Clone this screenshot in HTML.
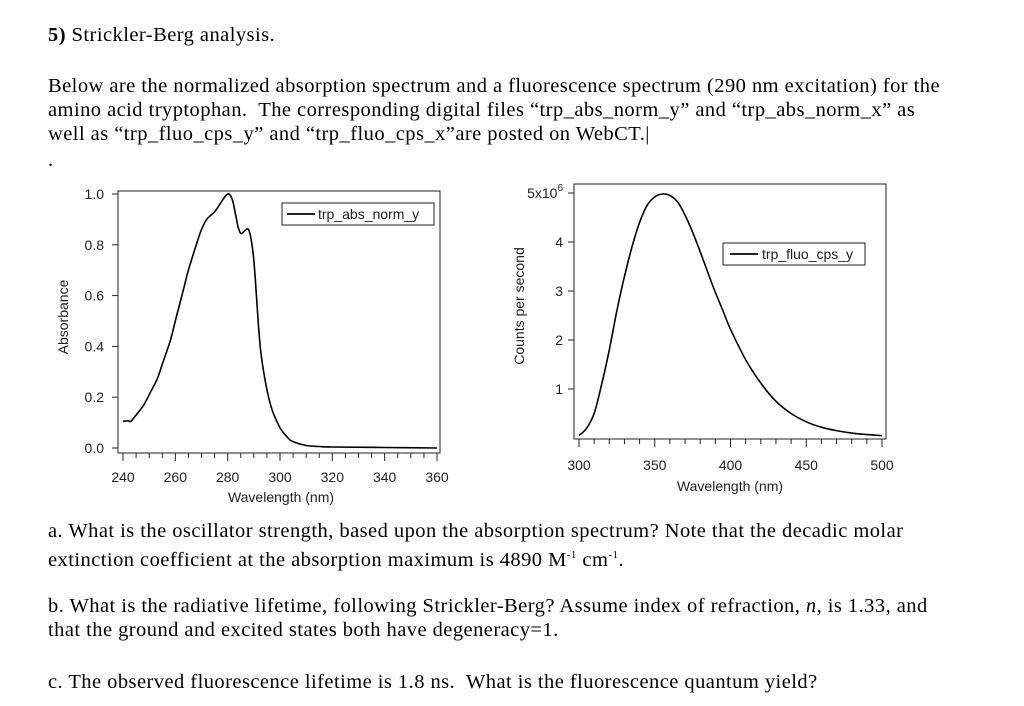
<!DOCTYPE html>
<html><head><meta charset="utf-8"><style>
body{margin:0;background:#fff;width:1024px;height:706px;overflow:hidden;position:relative;font-family:"Liberation Serif",serif;color:#000}
.t{position:absolute;left:48px;font-size:20.5px;letter-spacing:0.45px;white-space:nowrap;line-height:22px}
svg{position:absolute;left:0;top:0}
svg text{font-family:"Liberation Sans",sans-serif;font-size:14px;fill:#222}
</style></head><body>
<div class="t" style="top:24px"><b>5)</b> Strickler-Berg analysis.</div>
<div class="t" style="top:75px">Below are the normalized absorption spectrum and a fluorescence spectrum (290 nm excitation) for the</div>
<div class="t" style="top:99px">amino acid tryptophan.&nbsp; The corresponding digital files “trp_abs_norm_y” and “trp_abs_norm_x” as</div>
<div class="t" style="top:123px">well as “trp_fluo_cps_y” and “trp_fluo_cps_x”are posted on WebCT.|</div>
<div class="t" style="top:149px">.</div>
<div class="t" style="top:520px">a. What is the oscillator strength, based upon the absorption spectrum? Note that the decadic molar</div>
<div class="t" style="top:544px">extinction coefficient at the absorption maximum is 4890 M<sup style="font-size:11px">-1</sup> cm<sup style="font-size:11px">-1</sup>.</div>
<div class="t" style="top:595px">b. What is the radiative lifetime, following Strickler-Berg? Assume index of refraction, <i>n</i>, is 1.33, and</div>
<div class="t" style="top:619px">that the ground and excited states both have degeneracy=1.</div>
<div class="t" style="top:671px">c. The observed fluorescence lifetime is 1.8 ns.&nbsp; What is the fluorescence quantum yield?</div>
<svg id="svg" width="1024" height="706"></svg>
<script>
const absX=[240,242,243,245,248,250,253,255,258,260,263,265,268,270,272,275,277,279,280,281,282,283,284,285,286,287,288,289,290,291,292,293,295,297,300,303,305,310,315,320,340,360];
const absY=[0.105,0.107,0.105,0.13,0.17,0.21,0.27,0.33,0.42,0.5,0.62,0.7,0.8,0.86,0.9,0.93,0.96,0.99,1.0,0.995,0.97,0.92,0.87,0.845,0.85,0.86,0.86,0.82,0.74,0.6,0.45,0.35,0.23,0.15,0.08,0.04,0.025,0.01,0.006,0.004,0.002,0.0];
const fluX=[300,305,310,315,320,325,330,335,340,345,350,355,360,365,370,375,380,385,390,395,400,410,420,430,440,450,460,470,480,490,500];
const fluY=[0.05,0.2,0.5,1.1,1.8,2.6,3.3,3.9,4.4,4.75,4.92,4.98,4.95,4.82,4.55,4.2,3.8,3.38,2.97,2.6,2.22,1.6,1.12,0.75,0.5,0.33,0.22,0.15,0.1,0.07,0.05];
const absYTicks=["0.0","0.2","0.4","0.6","0.8","1.0"];
const absXTicks=[240,260,280,300,320,340,360];
const fluYTicks=[1,2,3,4,5];
const fluXTicks=[300,350,400,450,500];
const S=document.getElementById('svg');const NS='http://www.w3.org/2000/svg';
function mk(tag,a,name,txt){const e=document.createElementNS(NS,tag);for(const k in a)e.setAttribute(k,a[k]);


if(txt!==undefined)e.textContent=txt;S.appendChild(e);return e;}
function line(x1,y1,x2,y2,n){return mk('line',{x1,y1,x2,y2,stroke:'#222','stroke-width':1},n);}
function smooth(px){let d='M'+px[0][0].toFixed(1)+','+px[0][1].toFixed(1);
 for(let i=0;i<px.length-1;i++){const p0=px[Math.max(0,i-1)],p1=px[i],p2=px[i+1],p3=px[Math.min(px.length-1,i+2)];
 d+='C'+(p1[0]+(p2[0]-p0[0])/6).toFixed(1)+','+(p1[1]+(p2[1]-p0[1])/6).toFixed(1)+' '+(p2[0]-(p3[0]-p1[0])/6).toFixed(1)+','+(p2[1]-(p3[1]-p1[1])/6).toFixed(1)+' '+p2[0].toFixed(1)+','+p2[1].toFixed(1);}
 return d;}
// left chart
const ax=v=>123+(v-240)*(437-123)/120, ay=v=>448-v*254;
mk('rect',{x:118,y:191,width:322,height:262,fill:'none',stroke:'#222','stroke-width':1},'abs-plot-frame');
for(let v=240;v<=360;v+=5){line(ax(v),453,ax(v),v%20==0?461:458,'abs-x-tick');}
absXTicks.forEach(v=>mk('text',{x:ax(v),y:482,'text-anchor':'middle'},'abs-x-tick-label',String(v)));
absYTicks.forEach(s=>{const y=ay(parseFloat(s));line(112,y,118,y,'abs-y-tick');mk('text',{x:104,y:y+5,'text-anchor':'end'},'abs-y-tick-label',s);});
mk('text',{x:281,y:502,'text-anchor':'middle'},'abs-x-axis-title','Wavelength (nm)');
mk('text',{x:68,y:317,'text-anchor':'middle',transform:'rotate(-90 68 317)'},'abs-y-axis-title','Absorbance');
mk('path',{d:smooth(absX.map((x,i)=>[ax(x),ay(absY[i])])),fill:'none',stroke:'#000','stroke-width':1.6},'abs-series-line');
mk('rect',{x:282,y:203,width:152,height:22,fill:'#fff',stroke:'#222'},'abs-legend-box');
line(287,214,315,214,'abs-legend-line').setAttribute('stroke-width',2);
mk('text',{x:318,y:219},'abs-legend-label','trp_abs_norm_y');
// right chart
const fx=v=>579+(v-300)*(882-579)/200, fy=v=>438-v*49;
mk('rect',{x:574,y:184,width:312,height:255,fill:'none',stroke:'#222','stroke-width':1},'flu-plot-frame');
for(let v=300;v<=500;v+=10){line(fx(v),439,fx(v),v%50==0?447:444,'flu-x-tick');}
fluXTicks.forEach(v=>mk('text',{x:fx(v),y:470,'text-anchor':'middle'},'flu-x-tick-label',String(v)));
fluYTicks.forEach(v=>{const y=fy(v);line(568,y,574,y,'flu-y-tick');
 if(v==5){const t=mk('text',{x:563,y:y+5,'text-anchor':'end'},'flu-y-tick-label','5x10');const s=document.createElementNS(NS,'tspan');s.setAttribute('dy','-7');s.setAttribute('font-size','10');s.textContent='6';t.appendChild(s);}
 else mk('text',{x:563,y:y+5,'text-anchor':'end'},'flu-y-tick-label',String(v));});
mk('text',{x:730,y:491,'text-anchor':'middle'},'flu-x-axis-title','Wavelength (nm)');
mk('text',{x:524,y:306,'text-anchor':'middle',transform:'rotate(-90 524 306)'},'flu-y-axis-title','Counts per second');
mk('path',{d:smooth(fluX.map((x,i)=>[fx(x),fy(fluY[i])])),fill:'none',stroke:'#000','stroke-width':1.6,'stroke-linejoin':'round'},'flu-series-line');
mk('rect',{x:723,y:243,width:142,height:22,fill:'#fff',stroke:'#222'},'flu-legend-box');
line(730,254,758,254,'flu-legend-line').setAttribute('stroke-width',2);
mk('text',{x:762,y:259},'flu-legend-label','trp_fluo_cps_y');
</script>
</body></html>
